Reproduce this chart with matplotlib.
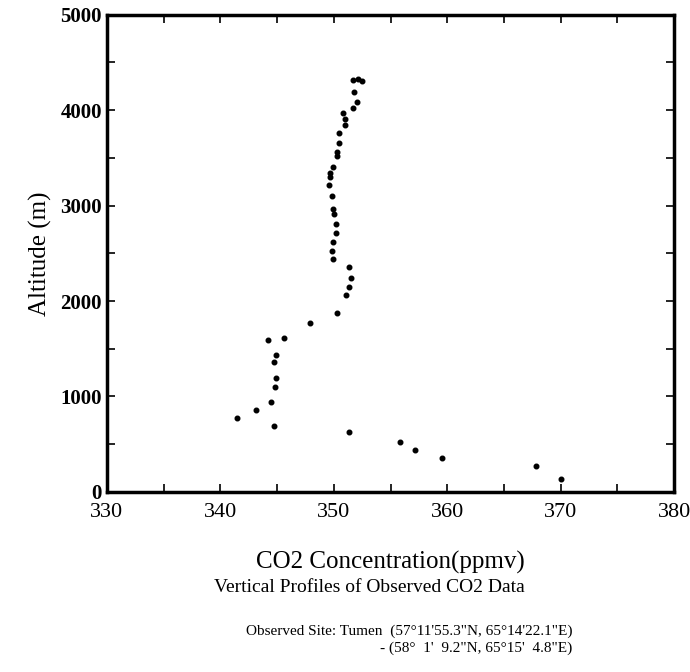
import matplotlib
matplotlib.use("Agg")
import matplotlib.pyplot as plt
from matplotlib.ticker import MultipleLocator

# CO2 (ppmv) and altitude (m)
co2 = [351.7, 352.1, 352.5, 351.8, 352.0, 351.7, 350.8, 351.0, 351.0, 350.5,
       350.5, 350.3, 350.3, 349.9, 349.7, 349.7, 349.6, 349.8, 349.9, 350.0,
       350.2, 350.2, 349.9, 349.8, 349.9, 351.3, 351.5, 351.3, 351.1, 350.3,
       347.9, 344.2, 345.6, 344.9, 344.7, 344.9, 344.8, 344.5, 343.1, 341.5,
       344.7, 351.3, 355.8, 357.2, 359.5, 367.8, 370.0]
alt = [4319, 4326, 4311, 4196, 4091, 4028, 3970, 3907, 3847, 3766,
       3655, 3567, 3522, 3410, 3341, 3305, 3218, 3106, 2966, 2914,
       2806, 2712, 2617, 2529, 2439, 2355, 2240, 2152, 2065, 1879,
       1775, 1593, 1617, 1439, 1366, 1195, 1104, 943, 860, 779,
       692, 629, 527, 440, 360, 273, 133]

xlabel = "CO2 Concentration(ppmv)"
ylabel = "Altitude (m)"
subtitle = "Vertical Profiles of Observed CO2 Data"
site1 = "Observed Site: Tumen  (57°11'55.3\"N, 65°14'22.1\"E)"
site2 = "- (58°  1'  9.2\"N, 65°15'  4.8\"E)"

plt.rcParams["font.family"] = ["Liberation Serif", "DejaVu Serif"]

fig = plt.figure(figsize=(6.9, 6.72), dpi=100)
ax = fig.add_axes([0.155, 0.268, 0.822, 0.71])

ax.plot(co2, alt, "o", color="black", markersize=3.3)

ax.set_xlim(330, 380)
ax.set_ylim(0, 5000)
ax.xaxis.set_major_locator(MultipleLocator(10))
ax.xaxis.set_minor_locator(MultipleLocator(5))
ax.yaxis.set_major_locator(MultipleLocator(1000))
ax.yaxis.set_minor_locator(MultipleLocator(500))
ax.tick_params(which="both", direction="in", top=True, right=True,
               width=1.2, length=6)
ax.tick_params(axis="x", pad=8, labelsize=16)
ax.tick_params(axis="y", labelsize=15)
for lab in ax.get_yticklabels():
    lab.set_fontweight("bold")
for s in ax.spines.values():
    s.set_linewidth(2.5)

ax.set_ylabel(ylabel, fontsize=18, labelpad=6)
ax.set_xlabel(xlabel, fontsize=18, labelpad=21)

fig.text(0.535, 0.125, subtitle, fontsize=14, ha="center", va="center")
fig.text(0.829, 0.060, site1, fontsize=11, ha="right", va="center")
fig.text(0.829, 0.035, site2, fontsize=11, ha="right", va="center")

fig.savefig("out.png", dpi=100)
